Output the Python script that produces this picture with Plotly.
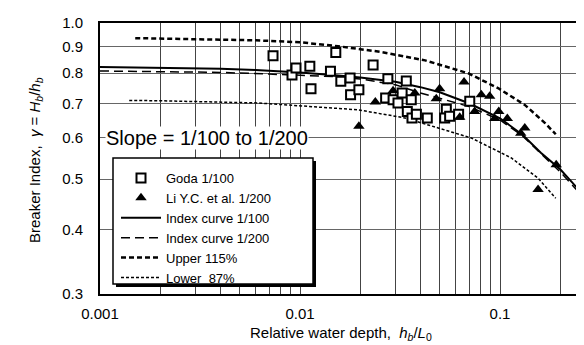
import plotly.graph_objects as go
import math

# ---------------- data ----------------
goda_x = [0.00733, 0.00912, 0.00955, 0.0112, 0.01135, 0.0142, 0.0151, 0.0160, 0.0178, 0.0179,
          0.0197, 0.0232, 0.0275, 0.0340, 0.0268, 0.0292, 0.0309, 0.0324, 0.0344, 0.0360,
          0.0363, 0.0382, 0.0433, 0.0539, 0.0529, 0.0560, 0.0621, 0.0706]
goda_y = [0.865, 0.794, 0.819, 0.825, 0.747, 0.807, 0.877, 0.772, 0.783, 0.727,
          0.743, 0.830, 0.781, 0.773, 0.717, 0.711, 0.701, 0.733, 0.675, 0.711,
          0.656, 0.667, 0.656, 0.682, 0.656, 0.661, 0.667, 0.706]

li_x = [0.0197, 0.0238, 0.0292, 0.0375, 0.0499, 0.0480, 0.0661, 0.0629, 0.0747, 0.0806,
        0.0888, 0.0986, 0.0941, 0.1088, 0.133, 0.127, 0.191, 0.155]
li_y = [0.632, 0.704, 0.740, 0.733, 0.747, 0.714, 0.769, 0.658, 0.675, 0.727,
        0.722, 0.675, 0.654, 0.654, 0.627, 0.613, 0.533, 0.477]

idx100_x = [0.001, 0.002, 0.004, 0.006, 0.01, 0.015, 0.02, 0.03, 0.04, 0.05, 0.07, 0.1, 0.13, 0.16, 0.2, 0.25, 0.3]
idx100_y = [0.822, 0.820, 0.816, 0.812, 0.803, 0.793, 0.785, 0.770, 0.752, 0.735, 0.700, 0.655, 0.608, 0.562, 0.522, 0.475, 0.430]

idx200_x = [0.001, 0.002, 0.004, 0.007, 0.01, 0.015, 0.02, 0.03, 0.04, 0.05, 0.07, 0.1, 0.13, 0.16, 0.2, 0.25, 0.3]
idx200_y = [0.808, 0.806, 0.803, 0.797, 0.793, 0.788, 0.780, 0.760, 0.733, 0.716, 0.690, 0.650, 0.605, 0.560, 0.516, 0.470, 0.426]

upper_x = [0.0015, 0.003, 0.006, 0.01, 0.0155, 0.025, 0.0422, 0.0692, 0.09, 0.0977, 0.133, 0.168, 0.19]
upper_y = [0.935, 0.932, 0.926, 0.918, 0.902, 0.880, 0.847, 0.800, 0.760, 0.749, 0.695, 0.641, 0.610]

lower_x = [0.0014, 0.00195, 0.00617, 0.0155, 0.0195, 0.0334, 0.0719, 0.114, 0.155, 0.19]
lower_y = [0.709, 0.708, 0.701, 0.685, 0.680, 0.656, 0.600, 0.549, 0.502, 0.459]

x_tickvals = [0.001, 0.002, 0.003, 0.004, 0.005, 0.006, 0.007, 0.008, 0.009,
              0.01, 0.02, 0.03, 0.04, 0.05, 0.06, 0.07, 0.08, 0.09, 0.1, 0.2]
x_ticktext = ["0.001", "", "", "", "", "", "", "", "",
              "0.01", "", "", "", "", "", "", "", "", "0.1", ""]
y_tickvals = [0.3, 0.4, 0.5, 0.6, 0.7, 0.8, 0.9, 1.0]
y_ticktext = ["0.3", "0.4", "0.5", "0.6", "0.7", "0.8", "0.9", "1.0"]

# ---------------- layout helpers ----------------
W, H = 584, 345
L, T, B = 92, 15, 59
PW, PH = W - L, H - T - B


def px(p):
    return (p - L) / PW


def py(p):
    return (H - B - p) / PH


FONT = "Liberation Sans, Arial, sans-serif"

fig = go.Figure()

fig.add_trace(go.Scatter(x=idx100_x, y=idx100_y, mode="lines", name="Index curve 1/100",
                         line=dict(color="black", width=2), legendrank=3))
fig.add_trace(go.Scatter(x=idx200_x, y=idx200_y, mode="lines", name="Index curve 1/200",
                         line=dict(color="black", width=1.5, dash="9px,5px"), legendrank=4))
fig.add_trace(go.Scatter(x=upper_x, y=upper_y, mode="lines", name="Upper 115%",
                         line=dict(color="black", width=2.5, dash="5px,3px"), legendrank=5))
fig.add_trace(go.Scatter(x=lower_x, y=lower_y, mode="lines", name="Lower  87%",
                         line=dict(color="black", width=1.5, dash="3px,2px"), legendrank=6))
fig.add_trace(go.Scatter(x=goda_x, y=goda_y, mode="markers", name="Goda 1/100",
                         marker=dict(symbol="square", size=9, color="white",
                                     line=dict(color="black", width=2)), legendrank=1))
fig.add_trace(go.Scatter(x=li_x, y=li_y, mode="markers", name="Li Y.C. et al. 1/200",
                         marker=dict(symbol="triangle-up", size=10, color="black",
                                     line=dict(width=0)), legendrank=2))

shapes = [
    # legend shadow + box
    dict(type="rect", xref="paper", yref="paper", x0=px(108), x1=px(308), y0=py(279), y1=py(153),
         fillcolor="black", line=dict(width=0), layer="above"),
    dict(type="rect", xref="paper", yref="paper", x0=px(105), x1=px(305), y0=py(276), y1=py(150),
         fillcolor="white", line=dict(color="black", width=1.5), layer="above"),
    # heavy marks at 0.1
    dict(type="line", xref="x", yref="paper", x0=-1, x1=-1, y0=0, y1=py(271),
         line=dict(color="black", width=2.5)),
    dict(type="line", xref="x", yref="paper", x0=-1, x1=-1, y0=py(30), y1=1,
         line=dict(color="black", width=2.5)),
]

annotations = [
    dict(text="Breaker Index,  <i>γ</i> = <i>H<sub>b</sub></i>/<i>h<sub>b</sub></i>",
         xref="paper", yref="paper", x=px(27), y=py(152), textangle=-90, showarrow=False,
         xanchor="center", yanchor="middle", font=dict(size=15, color="black", family=FONT)),
    dict(text="Relative water depth,  <i>h<sub>b</sub></i>/<i>L</i><sub>0</sub>",
         xref="paper", yref="paper", x=px(333), y=py(325), showarrow=False,
         xanchor="center", yanchor="middle", font=dict(size=15, color="black", family=FONT)),
    dict(text="Slope = 1/100 to 1/200", xref="paper", yref="paper", x=px(97), y=py(130),
         showarrow=False, xanchor="left", yanchor="middle", bgcolor="white", borderpad=0,
         font=dict(size=20, color="black", family=FONT)),
]

fig.update_layout(
    width=W, height=H,
    margin=dict(l=L, r=0, t=T, b=B, autoexpand=False),
    paper_bgcolor="white", plot_bgcolor="white",
    font=dict(family=FONT, size=15, color="black"),
    showlegend=True,
    legend=dict(x=px(108), y=py(155), xanchor="left", yanchor="top",
                bgcolor="rgba(0,0,0,0)", borderwidth=0, tracegroupgap=0,
                font=dict(size=13, color="black", family=FONT), itemwidth=40),
    shapes=shapes,
    annotations=annotations,
    xaxis=dict(type="log", range=[-3, -0.54], tickmode="array", tickvals=x_tickvals,
               ticktext=x_ticktext, showgrid=True, gridcolor="#444", gridwidth=1,
               showline=True, linecolor="black", linewidth=2, mirror=True,
               ticks="", ticklabelstandoff=5, zeroline=False, automargin=False,
               tickfont=dict(size=15, color="black", family=FONT)),
    yaxis=dict(type="log", range=[math.log10(0.3), 0], tickmode="array", tickvals=y_tickvals,
               ticktext=y_ticktext, showgrid=True, gridcolor="#666", gridwidth=1,
               showline=True, linecolor="black", linewidth=2,
               ticks="", ticklabelstandoff=12, zeroline=False, automargin=False,
               tickfont=dict(size=15, color="black", family=FONT)),
)

fig.write_html("out.html")
